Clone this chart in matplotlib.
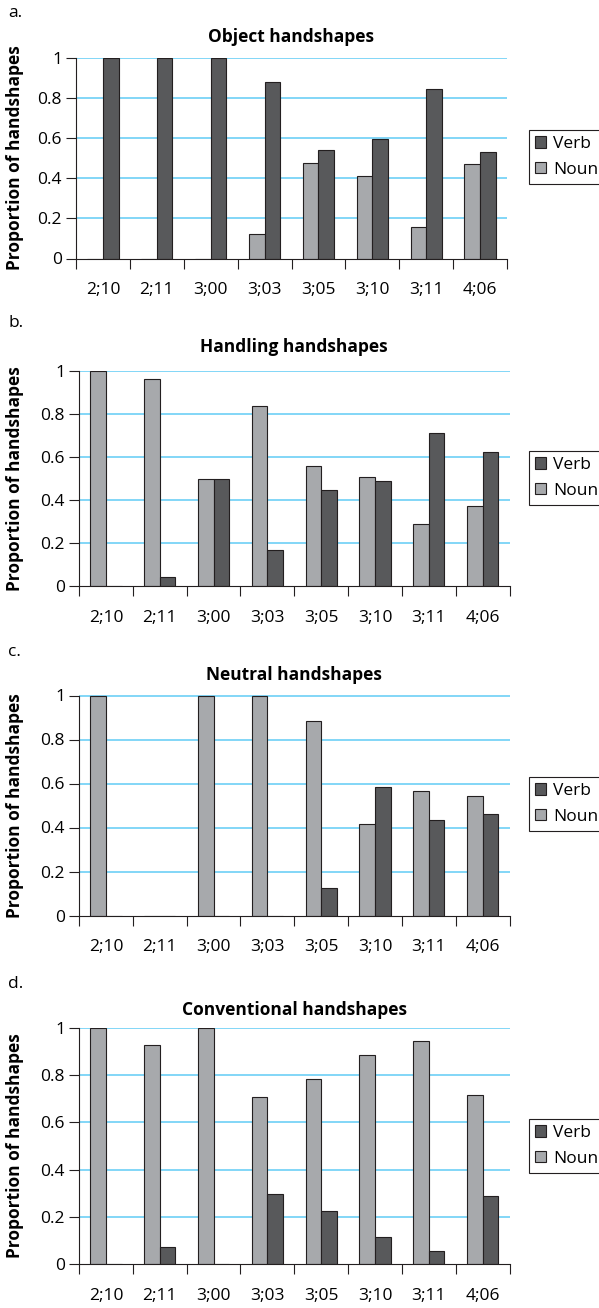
import matplotlib
matplotlib.use("Agg")
import matplotlib.pyplot as plt
import numpy as np

plt.rcParams['font.family'] = ['Open Sans', 'DejaVu Sans']

ages = ["2;10", "2;11", "3;00", "3;03", "3;05", "3;10", "3;11", "4;06"]
panel_letters = ["a.", "b.", "c.", "d."]
titles = ["Object handshapes", "Handling handshapes", "Neutral handshapes", "Conventional handshapes"]

object_noun = [0, 0, 0, 0.124, 0.475, 0.41, 0.155, 0.469]
object_verb = [1, 1, 1, 0.879, 0.541, 0.596, 0.844, 0.53]
handling_noun = [1, 0.964, 0.5, 0.836, 0.56, 0.509, 0.29, 0.374]
handling_verb = [0, 0.042, 0.5, 0.167, 0.447, 0.488, 0.713, 0.622]
neutral_noun = [1, 0, 1, 1, 0.886, 0.415, 0.568, 0.542]
neutral_verb = [0, 0, 0, 0, 0.126, 0.582, 0.432, 0.462]
conv_noun = [1, 0.926, 1, 0.706, 0.783, 0.886, 0.946, 0.716]
conv_verb = [0, 0.074, 0, 0.297, 0.225, 0.113, 0.056, 0.287]

nouns = [object_noun, handling_noun, neutral_noun, conv_noun]
verbs = [object_verb, handling_verb, neutral_verb, conv_verb]

W, H = 599, 1308
fig = plt.figure(figsize=(W / 100, H / 100), dpi=100)

# layout in pixels: (left, right, top(y=1), bottom(y=0), title_offset, letter_y, legend_top)
layout = [
    (76, 507, 57.5, 258.5, 20.5, 13, 130),
    (79, 509.5, 371, 586, 24, 323, 451),
    (79, 509.5, 695.5, 915.5, 20, 652, 777),
    (79, 509.5, 1028, 1264, 18, 984, 1119),
]

NOUN_C = "#a7a9ac"
VERB_C = "#58595b"
EDGE_C = "#231f20"
GRID_C = "#6dcff6"
FS = 12.5

x = np.arange(len(ages))
bw = 0.29
for i in range(4):
    l, r, t, b, toff, ly, legtop = layout[i]
    ax = fig.add_axes([l / W, 1 - b / H, (r - l) / W, (b - t) / H])
    ax.bar(x - bw / 2, nouns[i], width=bw, color=NOUN_C, edgecolor=EDGE_C, linewidth=0.8,
           label="Noun", zorder=3)
    ax.bar(x + bw / 2, verbs[i], width=bw, color=VERB_C, edgecolor=EDGE_C, linewidth=0.8,
           label="Verb", zorder=3)
    ax.set_xlim(-0.5, len(ages) - 0.5)
    ax.set_ylim(0, 1)
    ax.set_yticks([0, 0.2, 0.4, 0.6, 0.8, 1])
    ax.set_yticklabels(["0", "0.2", "0.4", "0.6", "0.8", "1"], fontsize=FS)
    for yv in [0.2, 0.4, 0.6, 0.8, 1.0]:
        ax.axhline(yv, color=GRID_C, linewidth=1.2, zorder=1)
    ax.set_xticks(np.arange(len(ages) + 1) - 0.5)
    ax.set_xticklabels([])
    ax.set_xticks(x, minor=True)
    ax.set_xticklabels(ages, minor=True, fontsize=FS)
    ax.tick_params(axis='x', which='major', length=7.5, width=0.8, color=EDGE_C, direction='out')
    ax.tick_params(axis='x', which='minor', length=0, pad=17)
    ax.tick_params(axis='y', length=7, width=0.8, color=EDGE_C, direction='out', pad=3)
    for s in ['top', 'right']:
        ax.spines[s].set_visible(False)
    for s in ['left', 'bottom']:
        ax.spines[s].set_color(EDGE_C)
        ax.spines[s].set_linewidth(0.8)
    ax.spines['bottom'].set_zorder(4)
    ax.set_title(titles[i], fontsize=FS, fontweight='bold', y=1 + toff / (b - t), va='center', pad=0)
    ax.set_ylabel("Proportion of handshapes", fontsize=FS, fontweight='bold', va='center')
    ax.yaxis.set_label_coords((15 - l) / (r - l), 0.5)
    fig.text(8 / W, 1 - ly / H, panel_letters[i], fontsize=FS, ha='left', va='center')
    handles, labels = ax.get_legend_handles_labels()
    leg = ax.legend([handles[1], handles[0]], [labels[1], labels[0]],
                    loc='upper left', bbox_to_anchor=(529 / W, 1 - legtop / H),
                    bbox_transform=fig.transFigure, borderaxespad=0, fontsize=FS,
                    handlelength=0.65, handleheight=0.65, handletextpad=0.4,
                    labelspacing=0.55, borderpad=0.35, fancybox=False, framealpha=1,
                    edgecolor=EDGE_C)
    leg.get_frame().set_linewidth(0.8)

fig.savefig("out.png", dpi=100)
